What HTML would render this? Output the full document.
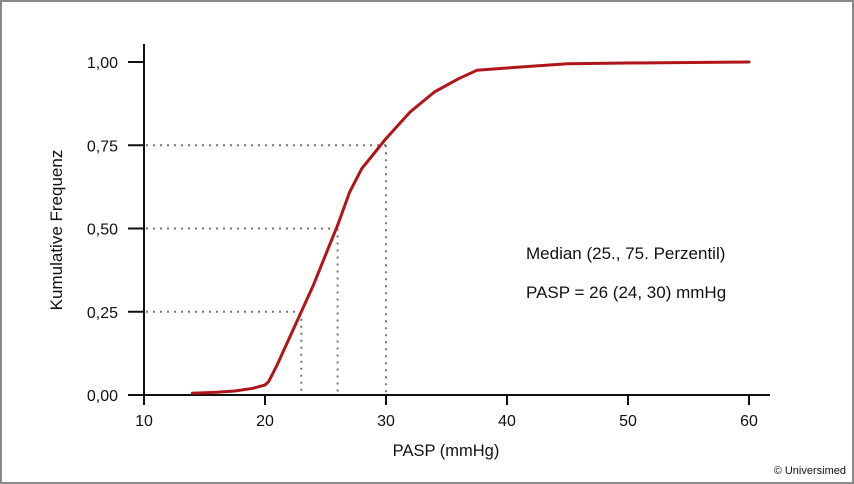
<!DOCTYPE html>
<html><head><meta charset="utf-8"><style>
html,body{margin:0;padding:0;background:#fff}
svg{display:block;font-family:"Liberation Sans",sans-serif}
</style></head><body>
<svg id="chart" width="854" height="484" viewBox="0 0 854 484">
<rect x="1" y="1" width="852" height="482" fill="#fff" stroke="#8a8a8a" stroke-width="2"/>
<g id="axes"></g>
<g id="guides"></g>
<g id="series"></g>
<text x="62" y="230" transform="rotate(-90 62 230)" text-anchor="middle" font-size="17" fill="#111">Kumulative Frequenz</text>
<text x="446" y="456" text-anchor="middle" font-size="16.5" fill="#111">PASP (mmHg)</text>
<text x="526" y="259" font-size="17" fill="#111">Median (25., 75. Perzentil)</text>
<text x="526" y="298" font-size="17" fill="#111">PASP = 26 (24, 30) mmHg</text>
<text x="846" y="474" text-anchor="end" font-size="11" fill="#111">© Universimed</text>
</svg>
<script>
const xTicks = [10, 20, 30, 40, 50, 60];
const yTicks = [0, 0.25, 0.5, 0.75, 1.0];
const yTickLabels = ["0,00", "0,25", "0,50", "0,75", "1,00"];
const curveX = [14, 16, 17.5, 19, 20, 20.3, 21, 22, 23, 24, 25, 26, 27, 28, 30, 32, 34, 36, 37.5, 40, 45, 50, 60];
const curveY = [0.005, 0.008, 0.012, 0.02, 0.03, 0.04, 0.09, 0.17, 0.25, 0.33, 0.42, 0.51, 0.61, 0.68, 0.77, 0.85, 0.91, 0.95, 0.975, 0.982, 0.995, 0.997, 1.0];
const percentileX = [23, 26, 30];
const percentileY = [0.25, 0.5, 0.75];

const NS = "http://www.w3.org/2000/svg";
const X0 = 144, Y0 = 395;
const sx = v => X0 + (v - 10) * 12.1;
const sy = v => Y0 - v * 333;
function mk(tag, attrs, parent) {
  const e = document.createElementNS(NS, tag);
  for (const k in attrs) e.setAttribute(k, attrs[k]);
  parent.appendChild(e);
  return e;
}
const axes = document.getElementById("axes");
const guides = document.getElementById("guides");
const series = document.getElementById("series");

const ya = mk("line", {x1: X0, y1: 44, x2: X0, y2: Y0, stroke: "#111", "stroke-width": 2}, axes);


const xa = mk("line", {x1: X0 - 1, y1: Y0, x2: 770, y2: Y0, stroke: "#111", "stroke-width": 2}, axes);



xTicks.forEach(v => {
  const t = mk("line", {x1: sx(v), y1: Y0, x2: sx(v), y2: Y0 + 10, stroke: "#111", "stroke-width": 2}, axes);
  
  
  const l = mk("text", {x: sx(v), y: Y0 + 31, "text-anchor": "middle", "font-size": 16, fill: "#111"}, axes);
  l.textContent = v;
  
  
});
yTicks.forEach((v, i) => {
  const t = mk("line", {x1: X0 - 16, y1: sy(v), x2: X0, y2: sy(v), stroke: "#111", "stroke-width": 2}, axes);
  
  
  const l = mk("text", {x: X0 - 26, y: sy(v) + 6, "text-anchor": "end", "font-size": 16, fill: "#111"}, axes);
  l.textContent = yTickLabels[i];
  
  
});

percentileX.forEach((xv, i) => {
  const yv = percentileY[i];
  const h = mk("line", {x1: X0 + 2, y1: sy(yv), x2: sx(xv), y2: sy(yv), stroke: "#777", "stroke-width": 2, "stroke-dasharray": "2 5"}, guides);
  
  
  const vline = mk("line", {x1: sx(xv), y1: sy(yv), x2: sx(xv), y2: Y0 - 2, stroke: "#777", "stroke-width": 2, "stroke-dasharray": "2 5"}, guides);
  
  
});

const d = curveX.map((xv, i) => (i ? "L" : "M") + sx(xv).toFixed(1) + "," + sy(curveY[i]).toFixed(1)).join(" ");
const p = mk("path", {d: d, fill: "none", stroke: "#b01519", "stroke-width": 3, "stroke-linejoin": "round", "stroke-linecap": "round"}, series);


</script>
</body></html>
